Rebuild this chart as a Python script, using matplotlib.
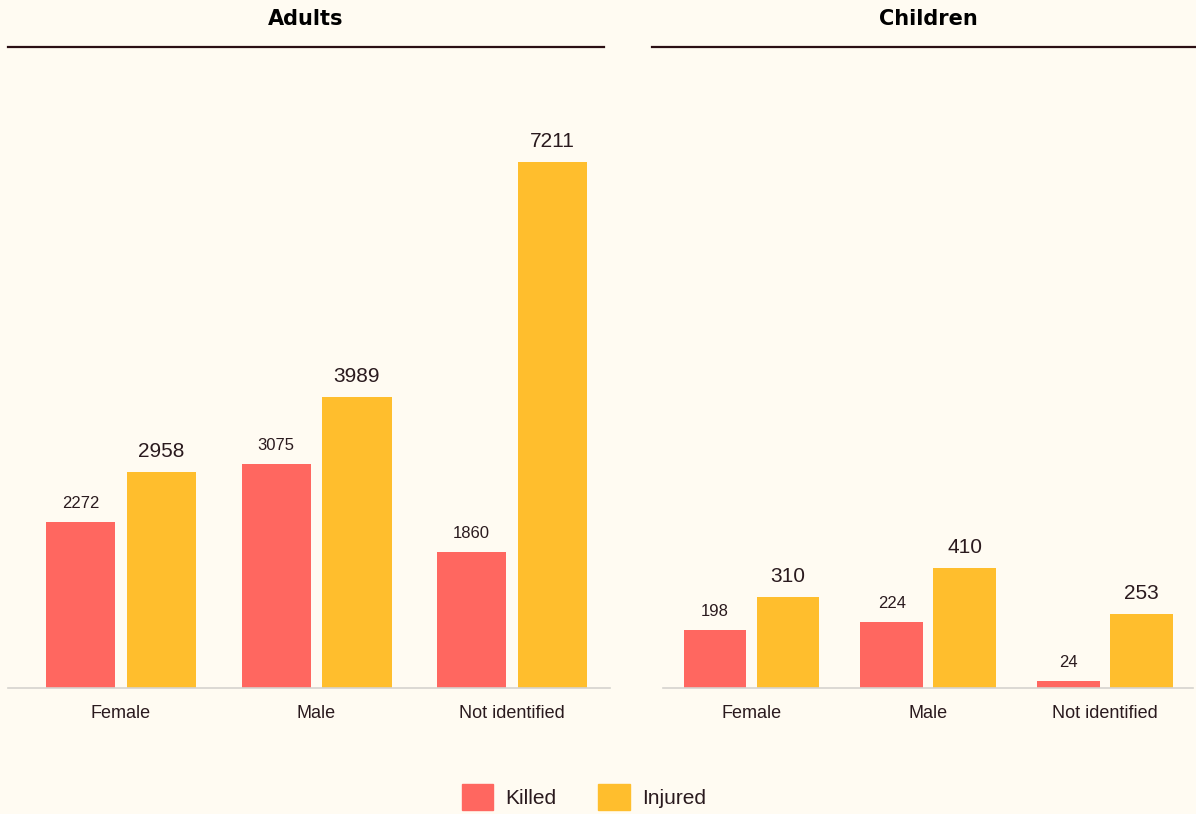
import matplotlib.pyplot as plt
from matplotlib.lines import Line2D
from matplotlib.patches import Patch
import numpy as np

plt.rcParams['font.family'] = ['Liberation Sans', 'DejaVu Sans']

categories = ['Female', 'Male', 'Not identified']
adults_killed = [2272, 3075, 1860]
adults_injured = [2958, 3989, 7211]
children_killed = [198, 224, 24]
children_injured = [310, 410, 253]

bg = '#FFFBF2'
red = '#FF6760'
orange = '#FFBE2D'
txt = '#2A1A1E'

fig = plt.figure(figsize=(11.96, 8.14), dpi=100, facecolor=bg)

W, H = 1196, 814

def make_ax(x0, x1, ymax):
    ax = fig.add_axes([x0 / W, (H - 688) / H, (x1 - x0) / W, 588 / H])
    ax.set_facecolor(bg)
    ax.set_ylim(0, ymax)
    for s in ['top', 'right', 'left']:
        ax.spines[s].set_visible(False)
    ax.spines['bottom'].set_color('#D5D3CE')
    ax.spines['bottom'].set_linewidth(1.2)
    ax.set_yticks([])
    ax.tick_params(axis='x', length=0, pad=12, labelsize=13, labelcolor=txt)
    return ax

def draw(ax, killed, injured, w, off):
    x = np.arange(len(categories))
    b1 = ax.bar(x - off, killed, w, color=red)
    b2 = ax.bar(x + off, injured, w, color=orange)
    ax.bar_label(b1, padding=8, fontsize=12, color=txt)
    ax.bar_label(b2, padding=8, fontsize=15, color=txt)
    ax.set_xticks(x)
    ax.set_xticklabels(categories)

ax1 = make_ax(8, 610, 8060)
draw(ax1, adults_killed, adults_injured, 0.353, 0.207)
ax1.set_xlim(-0.578, 2.501)

ax2 = make_ax(663, 1193, 2009)
draw(ax2, children_killed, children_injured, 0.354, 0.2065)
ax2.set_xlim(-0.5, 2.498)

# panel headers
fig.text(306 / W, 1 - 19 / H, 'Adults', ha='center', va='center',
         fontsize=15, fontweight='bold', color='black', family=['DejaVu Sans'])
fig.text(928 / W, 1 - 19 / H, 'Children', ha='center', va='center',
         fontsize=15, fontweight='bold', color='black', family=['DejaVu Sans'])
fig.add_artist(Line2D([8 / W, 604 / W], [1 - 47 / H] * 2, color='#2B0F14', lw=1.6))
fig.add_artist(Line2D([652 / W, 1196 / W], [1 - 47 / H] * 2, color='#2B0F14', lw=1.6))

handles = [Patch(color=red, label='Killed'), Patch(color=orange, label='Injured')]
fig.legend(handles=handles, loc='center', bbox_to_anchor=(584 / W, 1 - 797 / H),
           ncol=2, frameon=False, fontsize=15, handlelength=1.5, handleheight=1.5,
           handletextpad=0.6, columnspacing=2.0, labelcolor=txt)

fig.savefig('out.png', dpi=100, facecolor=bg)
